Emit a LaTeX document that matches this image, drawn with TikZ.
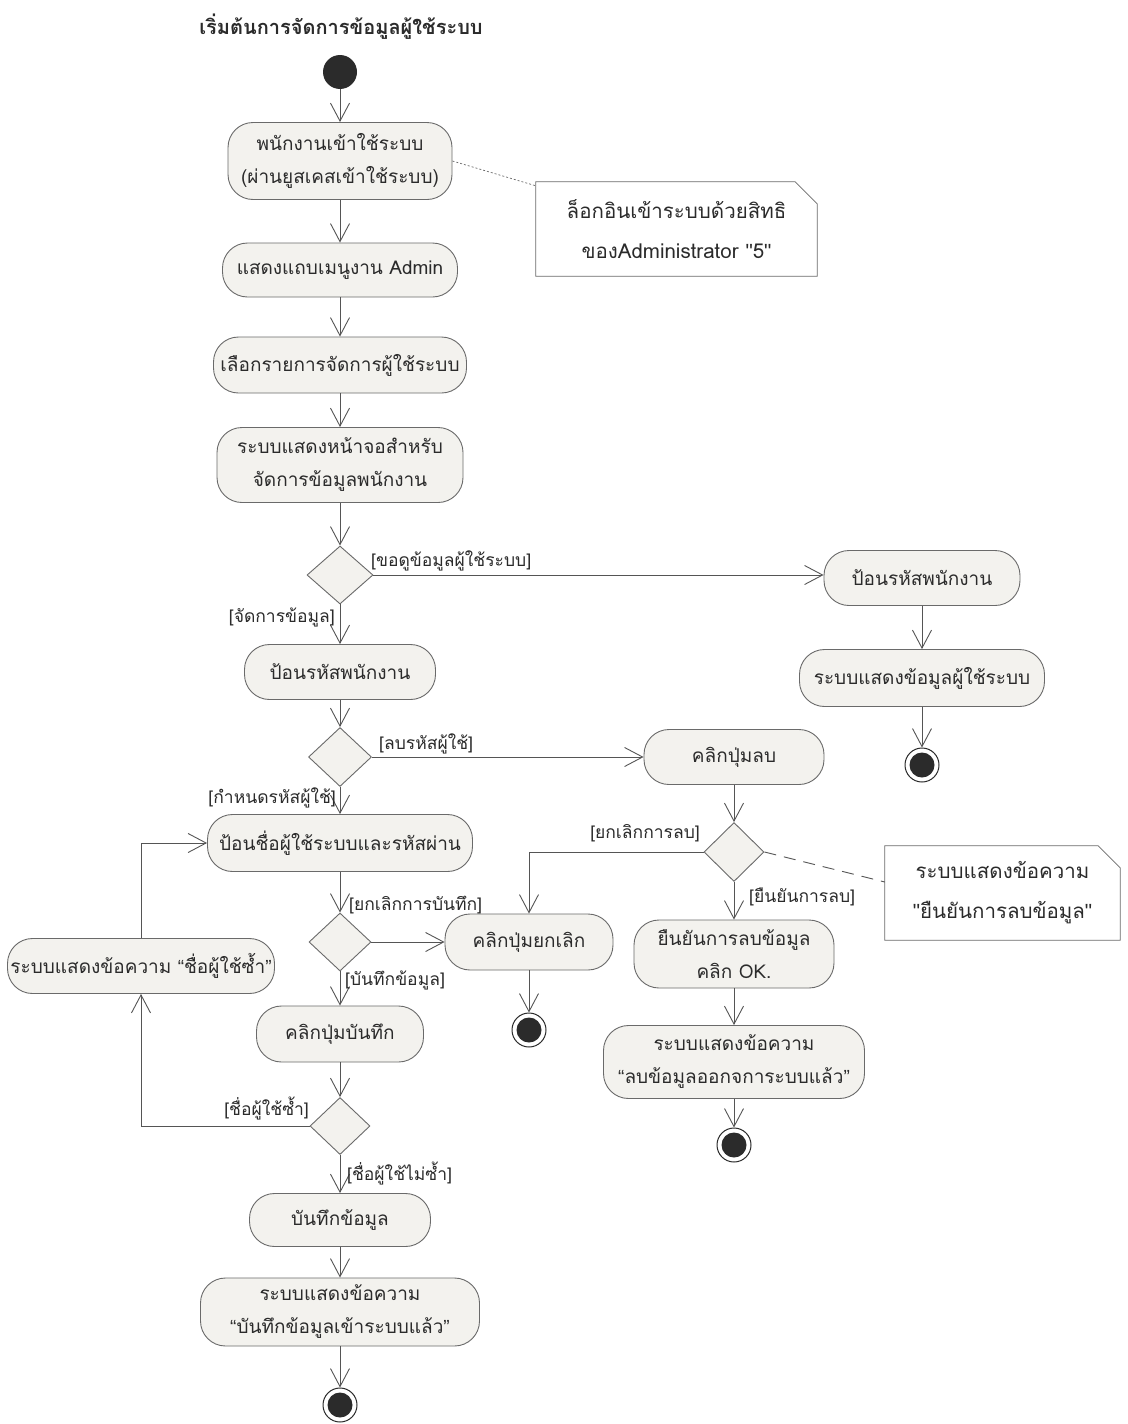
\documentclass[tikz,border=0pt]{standalone}
\usepackage{fontspec}
\setmainfont[Script=Thai]{Loma}
\newfontfamily\qfont{Liberation Sans}
\newcommand{\qopen}{{\qfont “}}
\newcommand{\qclose}{{\qfont ”}}
\newcommand{\qstraight}{{\qfont "}}
\usetikzlibrary{shapes.geometric,arrows.meta,calc}
\definecolor{actfill}{HTML}{F3F2EE}
\definecolor{edge}{HTML}{6A6A6A}
\definecolor{wire}{HTML}{555555}
\definecolor{ink}{HTML}{2B2B2B}
\begin{document}
\begin{tikzpicture}[x=1pt,y=-1pt,
  act/.style={draw=edge, fill=actfill, rounded corners=25pt, align=center,
    inner sep=0pt, font=\fontsize{19}{33}\selectfont, text=ink, line width=0.9pt},
  decision/.style={diamond, draw=edge, fill=actfill, inner sep=0pt, line width=0.9pt},
  flow/.style={draw=wire, line width=0.9pt,
    -{Straight Barb[length=18pt,width=19pt,line width=0.9pt]}},
  guard/.style={font=\fontsize{17.5}{20}\selectfont, text=ink, inner sep=1pt},
  notebox/.style={align=center, inner sep=0pt, font=\fontsize{20.5}{40}\selectfont, text=ink},
  notedraw/.style={draw=edge, line width=0.8pt},
  initial/.style={circle, fill=ink, minimum size=34pt, inner sep=0pt},
  final/.style={circle, draw=ink, line width=1pt, fill=white, minimum size=34pt,
    inner sep=0pt, path picture={\fill[ink] (path picture bounding box.center) circle (12.5pt);}},
]
\useasboundingbox (0,0) rectangle (1127,1424);
\fill[white] (0,0) rectangle (1127,1424);

% heading
\node[font=\bfseries\fontsize{20}{24}\selectfont, text=ink] (title) at (341,27)
  {เริ่มต้นการจัดการข้อมูลผู้ใช้ระบบ};

% main column
\node[initial] (start) at (340,72) {};
\node[act, minimum width=224pt, minimum height=77pt] (n1) at (340,161)
  {พนักงานเข้าใช้ระบบ\\(ผ่านยูสเคสเข้าใช้ระบบ)};
\node[act, minimum width=235pt, minimum height=54pt] (n2) at (340,270)
  {แสดงแถบเมนูงาน Admin};
\node[act, minimum width=253pt, minimum height=56pt] (n3) at (340,365)
  {เลือกรายการจัดการผู้ใช้ระบบ};
\node[act, minimum width=246pt, minimum height=75pt] (n4) at (340,465)
  {ระบบแสดงหน้าจอสำหรับ\\จัดการข้อมูลพนักงาน};
\node[decision, minimum width=66pt, minimum height=58pt] (d1) at (340,575) {};
\node[act, minimum width=191pt, minimum height=55pt] (n5) at (340,672)
  {ป้อนรหัสพนักงาน};
\node[decision, minimum width=63pt, minimum height=59pt] (d2) at (340,757) {};
\node[act, minimum width=265pt, minimum height=57pt] (n6) at (340,843)
  {ป้อนชื่อผู้ใช้ระบบและรหัสผ่าน};
\node[decision, minimum width=62pt, minimum height=58pt] (d3) at (340,942) {};
\node[act, minimum width=167pt, minimum height=56pt] (savebtn) at (340,1034)
  {คลิกปุ่มบันทึก};
\node[decision, minimum width=60pt, minimum height=57pt] (d4) at (340,1126) {};
\node[act, minimum width=181pt, minimum height=53pt] (save) at (340,1220)
  {บันทึกข้อมูล};
\node[act, minimum width=279pt, minimum height=68pt] (savemsg) at (340,1312)
  {ระบบแสดงข้อความ\\\qopen บันทึกข้อมูลเข้าระบบแล้ว\qclose};
\node[final] (end1) at (340,1405) {};

% view branch
\node[act, minimum width=196pt, minimum height=55pt] (r1) at (922,578)
  {ป้อนรหัสพนักงาน};
\node[act, minimum width=245pt, minimum height=57pt] (r2) at (922,678)
  {ระบบแสดงข้อมูลผู้ใช้ระบบ};
\node[final] (endr) at (922,765) {};

% delete branch
\node[act, minimum width=180pt, minimum height=55pt] (delbtn) at (734,757)
  {คลิกปุ่มลบ};
\node[decision, minimum width=60pt, minimum height=59pt] (d5) at (734,852) {};
\node[act, minimum width=200pt, minimum height=68pt] (confirm) at (734,954)
  {ยืนยันการลบข้อมูล\\คลิก OK.};
\node[act, minimum width=261pt, minimum height=73pt] (delmsg) at (734,1062)
  {ระบบแสดงข้อความ\\\qopen ลบข้อมูลออกจการะบบแล้ว\qclose};
\node[final] (end3) at (734,1145) {};

% cancel / duplicate
\node[act, minimum width=168pt, minimum height=56pt] (cancel) at (529,942)
  {คลิกปุ่มยกเลิก};
\node[final] (end2) at (529,1030) {};
\node[act, minimum width=267pt, minimum height=55pt] (dupmsg) at (141,966)
  {ระบบแสดงข้อความ \qopen ชื่อผู้ใช้ซ้ำ\qclose};

% notes
\node[notebox, minimum width=281pt, minimum height=94pt] (note1) at (676.5,229)
  {ล็อกอินเข้าระบบด้วยสิทธิ\\ของAdministrator \qstraight 5\qstraight};
\draw[notedraw] (note1.south west) -- (note1.north west)
  -- ($(note1.north east)+(-22,0)$) -- ($(note1.north east)+(0,22)$)
  -- (note1.south east) -- cycle;
\node[notebox, minimum width=235pt, minimum height=94pt] (note2) at (1002.5,893)
  {ระบบแสดงข้อความ\\\qstraight ยืนยันการลบข้อมูล\qstraight};
\draw[notedraw] (note2.south west) -- (note2.north west)
  -- ($(note2.north east)+(-22,0)$) -- ($(note2.north east)+(0,22)$)
  -- (note2.south east) -- cycle;
\draw[edge, line width=0.7pt, dash pattern=on 2pt off 2pt] (n1.east) -- ($(note1.north west)+(0,4)$);
\draw[wire, line width=0.9pt, dash pattern=on 12pt off 8pt] (d5.east) -- ($(note2.west)+(0,-11)$);

% flows
\draw[flow] (start) -- (n1);
\draw[flow] (n1) -- (n2);
\draw[flow] (n2) -- (n3);
\draw[flow] (n3) -- (n4);
\draw[flow] (n4) -- (d1);
\draw[flow] (d1.east) -- (d1.east -| r1.west);
\draw[flow] (r1) -- (r2);
\draw[flow] (r2) -- (endr);
\draw[flow] (d1) -- (n5);
\draw[flow] (n5) -- (d2);
\draw[flow] (d2.east) -- (d2.east -| delbtn.west);
\draw[flow] (d2) -- (n6);
\draw[flow] (delbtn) -- (d5);
\draw[flow] (d5.west) -| (cancel.north);
\draw[flow] (d5) -- (confirm);
\draw[flow] (confirm) -- (delmsg);
\draw[flow] (delmsg) -- (end3);
\draw[flow] (n6) -- (d3);
\draw[flow] (d3.east) -- (d3.east -| cancel.west);
\draw[flow] (cancel) -- (end2);
\draw[flow] (d3) -- (savebtn);
\draw[flow] (savebtn) -- (d4);
\draw[flow] (d4.west) -| (dupmsg.south);
\draw[flow] (dupmsg.north) |- (n6.west);
\draw[flow] (d4) -- (save);
\draw[flow] (save) -- (savemsg);
\draw[flow] (savemsg) -- (end1);

% guards
\node[guard, anchor=west] (g1) at (370,561) {[ขอดูข้อมูลผู้ใช้ระบบ]};
\node[guard, anchor=east] (g2) at (336,617) {[จัดการข้อมูล]};
\node[guard, anchor=west] (g3) at (378,744) {[ลบรหัสผู้ใช้]};
\node[guard, anchor=east] (g4) at (337,798) {[กำหนดรหัสผู้ใช้]};
\node[guard, anchor=west] (g5) at (348,905) {[ยกเลิกการบันทึก]};
\node[guard, anchor=west] (g6) at (344,980) {[บันทึกข้อมูล]};
\node[guard, anchor=east] (g7) at (310,1108) {[ชื่อผู้ใช้ซ้ำ]};
\node[guard, anchor=west] (g8) at (346,1173) {[ชื่อผู้ใช้ไม่ซ้ำ]};
\node[guard, anchor=east] (g9) at (701,833) {[ยกเลิกการลบ]};
\node[guard, anchor=west] (g10) at (748,897) {[ยืนยันการลบ]};
\end{tikzpicture}
\end{document}
